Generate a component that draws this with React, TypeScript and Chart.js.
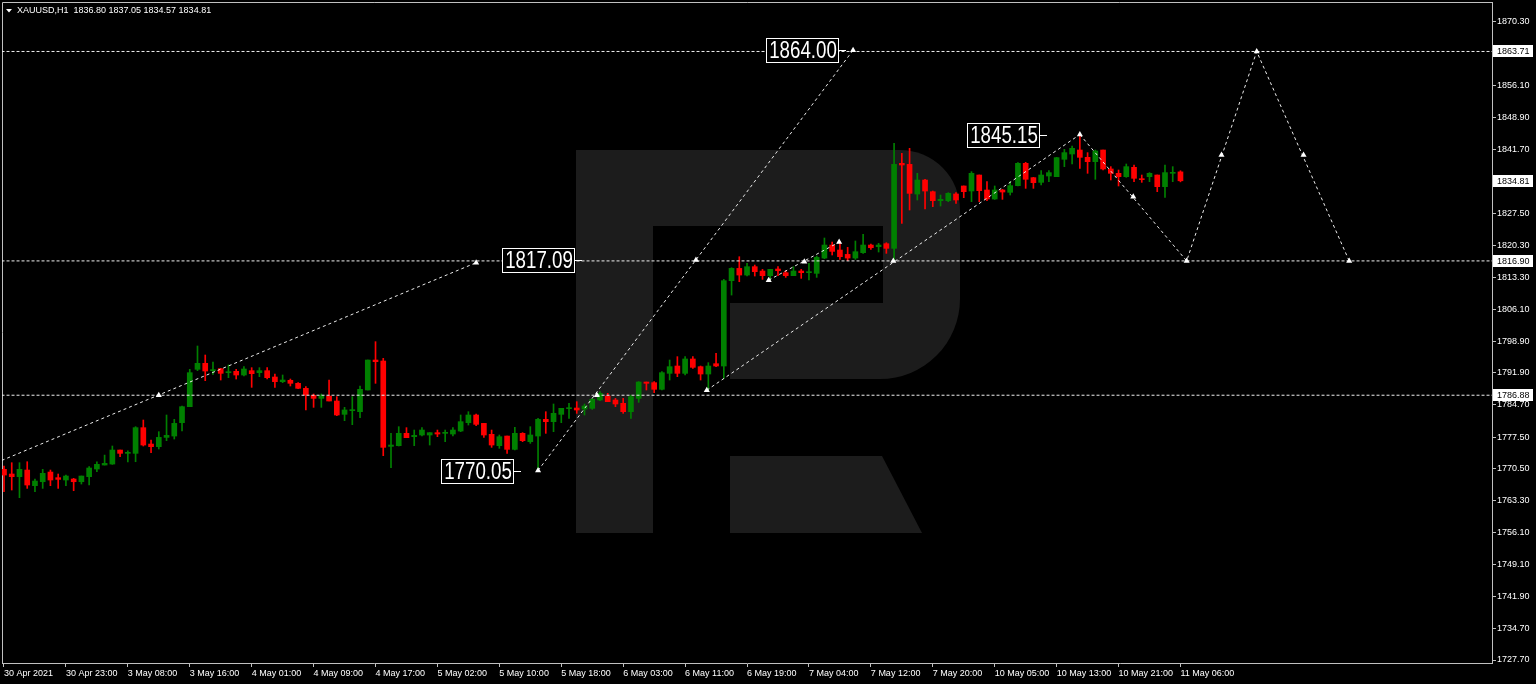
import React, { useEffect, useRef } from "react";
import { Chart, registerables } from "chart.js";

Chart.register(...registerables);

const FONT = '"Liberation Sans", Arial, sans-serif';
const AXIS_COLOR = "#c0c0c0";
const BULL = "#008000";
const BEAR = "#ff0000";
const LOGO = "#1c1c1c";

const SYMBOL = "XAUUSD,H1";
const HEADER_OHLC = ["1836.80", "1837.05", "1834.57", "1834.81"];

// ---- Candles (H1), index 0 = 30 Apr 15:00 ... index 152 = 11 May 06:00 ----
const OPEN = [
  1770.31, 1769.27, 1768.67, 1770.16, 1766.66, 1767.55, 1769.71, 1768.45, 1767.93, 1768.15,
  1767.55, 1768.67, 1770.39, 1771.28, 1771.5, 1774.63, 1773.89, 1773.89, 1779.63, 1775.97,
  1775.38, 1777.46, 1777.76, 1780.74, 1784.32, 1792.67, 1794.01, 1792.37, 1792.82, 1791.92,
  1792.22, 1791.4, 1792.37, 1791.92, 1792.37, 1790.95, 1789.91, 1790.21, 1789.54, 1788.42,
  1786.85, 1786.18, 1786.7, 1785.59, 1782.61, 1783.43, 1783.2, 1788.05, 1794.75, 1794.53,
  1775.45, 1775.6, 1778.36, 1777.61, 1777.99, 1777.99, 1778.51, 1778.36, 1778.21, 1778.88,
  1780.74, 1782.46, 1780.59, 1778.14, 1775.6, 1777.76, 1774.78, 1778.36, 1776.5, 1777.76,
  1781.49, 1780.97, 1782.61, 1783.87, 1784.02, 1783.8, 1783.95, 1785.81, 1786.7, 1785.81,
  1785.07, 1783.2, 1786.18, 1789.83, 1789.69, 1788.2, 1791.77, 1793.41, 1791.77, 1794.98,
  1793.26, 1791.62, 1793.93, 1793.41, 1812.48, 1815.23, 1813.74, 1815.61, 1814.64, 1813.6,
  1815.09, 1814.27, 1813.6, 1814.64, 1814.27, 1814.12, 1817.54, 1820.45, 1819.33, 1818.36,
  1817.54, 1818.74, 1820.45, 1820.08, 1820.75, 1819.71, 1838.71, 1838.48, 1831.85, 1834.98,
  1832.37, 1830.37, 1830.37, 1831.86, 1833.65, 1832.53, 1836.1, 1832.75, 1830.74, 1832.75,
  1832.23, 1833.72, 1838.71, 1835.51, 1834.46, 1835.88, 1835.73, 1839.61, 1840.8, 1841.69,
  1840.05, 1839.08, 1841.69, 1837.45, 1836.48, 1835.73, 1837.82, 1835.21, 1835.73, 1836.1,
  1833.5, 1836.48, 1836.8,
];
const HIGH = [
  1771.06, 1771.8, 1771.8, 1772.02, 1768.15, 1770.31, 1770.16, 1769.27, 1769.04, 1768.3,
  1768.82, 1770.91, 1772.02, 1773.5, 1775.53, 1774.63, 1774.48, 1779.85, 1781.34, 1776.87,
  1778.73, 1782.46, 1781.49, 1784.47, 1792.67, 1797.88, 1795.87, 1794.31, 1792.89, 1793.64,
  1792.67, 1793.26, 1793.04, 1793.04, 1793.04, 1791.62, 1791.4, 1790.5, 1789.69, 1788.79,
  1787.15, 1787.15, 1790.28, 1786.56, 1784.17, 1786.56, 1788.94, 1794.75, 1798.85, 1795.13,
  1778.36, 1779.85, 1779.63, 1779.1, 1779.63, 1778.51, 1779.1, 1779.1, 1779.63, 1782.46,
  1783.2, 1782.68, 1780.59, 1779.1, 1777.99, 1777.76, 1779.7, 1778.51, 1779.85, 1781.71,
  1783.2, 1784.92, 1783.95, 1785.07, 1785.44, 1784.92, 1786.18, 1787.67, 1787.3, 1786.18,
  1786.18, 1786.93, 1789.91, 1789.83, 1789.91, 1792.15, 1794.75, 1795.5, 1795.5, 1795.5,
  1793.41, 1794.16, 1796.24, 1812.77, 1815.38, 1817.84, 1816.35, 1815.98, 1815.01, 1815.01,
  1815.61, 1814.71, 1815.61, 1815.01, 1816.35, 1817.99, 1822.02, 1821.12, 1821.2, 1819.93,
  1821.35, 1822.84, 1820.67, 1820.82, 1820.97, 1843.18, 1840.94, 1842.06, 1836.47, 1835.13,
  1832.52, 1831.63, 1832.15, 1832.15, 1833.65, 1836.85, 1836.1, 1834.61, 1833.65, 1832.9,
  1834.61, 1838.86, 1838.94, 1835.58, 1837.07, 1837.07, 1840.05, 1841.84, 1842.59, 1845.15,
  1841.1, 1841.69, 1841.69, 1837.97, 1837.22, 1838.56, 1838.34, 1836.1, 1836.63, 1836.1,
  1838.34, 1837.97, 1837.05,
];
const LOW = [
  1765.32, 1765.69, 1763.98, 1766.06, 1765.32, 1766.06, 1766.66, 1766.06, 1766.66, 1765.54,
  1767.03, 1766.81, 1769.79, 1771.28, 1771.43, 1773.15, 1771.95, 1772.02, 1775.53, 1774.04,
  1774.86, 1776.72, 1777.09, 1778.88, 1784.32, 1792.37, 1790.13, 1791.55, 1790.28, 1790.8,
  1790.5, 1791.18, 1788.64, 1791.03, 1790.5, 1788.64, 1789.69, 1788.94, 1788.34, 1783.58,
  1784.17, 1784.17, 1785.59, 1782.31, 1781.19, 1780.3, 1781.86, 1788.05, 1789.54, 1773.37,
  1770.68, 1775.53, 1777.39, 1775.6, 1777.76, 1775.75, 1777.61, 1776.5, 1777.76, 1778.73,
  1780.22, 1780.07, 1777.46, 1775.23, 1775.01, 1773.89, 1774.63, 1776.5, 1776.12, 1770.05,
  1778.36, 1778.73, 1780.74, 1781.71, 1782.83, 1782.46, 1783.72, 1785.66, 1785.44, 1784.32,
  1782.83, 1781.71, 1785.29, 1788.05, 1787.45, 1788.05, 1790.28, 1791.03, 1791.4, 1792.89,
  1790.28, 1788.0, 1793.26, 1790.64, 1809.27, 1812.25, 1813.52, 1813.52, 1812.77, 1812.63,
  1813.6, 1813.22, 1813.6, 1813.0, 1812.63, 1813.22, 1817.4, 1818.22, 1817.25, 1816.95,
  1817.25, 1818.59, 1819.48, 1818.89, 1818.59, 1816.72, 1825.29, 1828.28, 1830.51, 1828.5,
  1829.02, 1829.17, 1830.14, 1829.77, 1831.04, 1830.14, 1830.14, 1830.37, 1830.66, 1830.66,
  1831.63, 1833.65, 1833.12, 1833.12, 1833.87, 1834.61, 1835.73, 1837.97, 1838.56, 1837.59,
  1836.48, 1835.14, 1837.22, 1834.99, 1833.65, 1835.58, 1834.61, 1834.46, 1834.61, 1832.38,
  1831.11, 1834.61, 1834.57,
];
const CLOSE = [
  1769.04, 1768.67, 1770.31, 1766.81, 1767.7, 1769.42, 1767.93, 1768.07, 1768.82, 1767.55,
  1768.82, 1770.61, 1771.43, 1771.65, 1774.63, 1773.89, 1774.04, 1779.63, 1775.75, 1775.38,
  1777.46, 1777.91, 1780.59, 1784.32, 1791.92, 1794.01, 1792.29, 1792.59, 1791.77, 1792.07,
  1791.4, 1792.74, 1791.7, 1792.37, 1790.8, 1789.91, 1790.28, 1789.54, 1788.42, 1786.93,
  1786.18, 1786.78, 1785.59, 1782.46, 1783.58, 1783.58, 1788.2, 1794.75, 1794.38, 1775.23,
  1775.75, 1778.36, 1777.39, 1777.91, 1779.1, 1778.51, 1778.21, 1778.51, 1779.1, 1780.97,
  1782.46, 1780.37, 1777.99, 1775.75, 1777.61, 1774.78, 1778.36, 1776.72, 1777.99, 1781.49,
  1780.97, 1782.83, 1783.95, 1784.02, 1783.58, 1784.47, 1785.96, 1787.3, 1785.44, 1784.92,
  1783.2, 1786.56, 1789.83, 1789.54, 1788.2, 1791.92, 1793.26, 1791.77, 1794.98, 1793.11,
  1791.62, 1793.41, 1793.41, 1812.48, 1815.23, 1813.74, 1815.61, 1814.49, 1813.6, 1815.01,
  1814.71, 1813.6, 1814.64, 1814.27, 1814.41, 1817.69, 1820.45, 1819.03, 1817.84, 1817.54,
  1818.96, 1820.45, 1819.85, 1820.45, 1819.71, 1838.48, 1838.34, 1832.0, 1834.98, 1832.52,
  1830.36, 1830.66, 1832.01, 1830.52, 1832.38, 1836.48, 1832.6, 1830.74, 1832.75, 1832.3,
  1833.72, 1838.71, 1835.14, 1834.39, 1836.1, 1836.63, 1839.98, 1841.1, 1842.07, 1840.05,
  1839.08, 1841.47, 1837.45, 1836.48, 1835.73, 1837.97, 1835.36, 1835.06, 1836.48, 1833.5,
  1836.63, 1836.7, 1834.81,
];

// ---- Axes ----
const X_TICK_INDEX = [0, 8, 16, 24, 32, 40, 48, 56, 64, 72, 80, 88, 96, 104, 112, 120, 128, 136, 144, 152];
const X_TICK_LABELS = [
  "30 Apr 2021", "30 Apr 23:00", "3 May 08:00", "3 May 16:00", "4 May 01:00", "4 May 09:00",
  "4 May 17:00", "5 May 02:00", "5 May 10:00", "5 May 18:00", "6 May 03:00", "6 May 11:00",
  "6 May 19:00", "7 May 04:00", "7 May 12:00", "7 May 20:00", "10 May 05:00", "10 May 13:00",
  "10 May 21:00", "11 May 06:00",
];
const Y_TICKS = [
  1870.3, 1863.1, 1856.1, 1848.9, 1841.7, 1834.5, 1827.5, 1820.3, 1813.3, 1806.1, 1798.9,
  1791.9, 1784.7, 1777.5, 1770.5, 1763.3, 1756.1, 1749.1, 1741.9, 1734.7, 1727.7,
];
const X_MIN = -0.258;
const X_MAX = 192.25;
const Y_MIN = 1727.03;
const Y_MAX = 1874.77;

// ---- Drawn objects ----
const LEVELS = [1863.71, 1816.9, 1786.88];
const AXIS_MARKS = [1863.71, 1834.81, 1816.9, 1786.88];

const TREND_1 = [{ x: -0.3, y: 1772.3 }, { x: 61, y: 1816.5 }];
const TREND_2 = [{ x: 69, y: 1770.05 }, { x: 109.7, y: 1864.0 }];
const TREND_3 = [{ x: 90.8, y: 1788.0 }, { x: 139, y: 1845.15 }];
const TREND_4 = [{ x: 98.8, y: 1812.6 }, { x: 107.9, y: 1821.1 }];
const FORECAST = [
  { x: 139, y: 1845.15 },
  { x: 152.8, y: 1816.9 },
  { x: 161.85, y: 1863.71 },
  { x: 173.8, y: 1816.9 },
];

const MARK_X = [20, 61, 69, 76.6, 89.4, 109.7, 90.8, 114.9, 139, 98.8, 103.4, 107.9, 145.9, 152.8, 157.3, 161.85, 167.9, 173.8];
const MARK_Y = [1786.9, 1816.5, 1770.05, 1786.9, 1817.1, 1864.0, 1788.0, 1816.9, 1845.15, 1812.6, 1816.7, 1821.1, 1831.25, 1816.9, 1840.6, 1863.71, 1840.6, 1816.9];

const LABEL_TEXT = ["1864.00", "1817.09", "1770.05", "1845.15"];
const LABEL_INDEX = [109, 75, 67, 135];
const LABEL_PRICE = [1864.0, 1817.09, 1770.05, 1845.15];

function drawLogo(ctx: CanvasRenderingContext2D) {
  ctx.save();
  ctx.fillStyle = LOGO;
  ctx.fillRect(576, 150, 77, 383);
  ctx.beginPath();
  (ctx as any).roundRect(576, 150, 384, 229, [0, 60, 80, 0]);
  ctx.fill();
  ctx.beginPath();
  ctx.moveTo(730, 456);
  ctx.lineTo(882, 456);
  ctx.lineTo(922, 533);
  ctx.lineTo(730, 533);
  ctx.closePath();
  ctx.fill();
  ctx.fillStyle = "#000000";
  ctx.fillRect(653, 226, 230, 77);
  ctx.fillRect(653, 303, 77, 76);
  ctx.restore();
}

const backgroundPlugin = {
  id: "mtBackground",
  beforeDraw(chart: any) {
    const ctx: CanvasRenderingContext2D = chart.ctx;
    const a = chart.chartArea;
    ctx.save();
    ctx.fillStyle = "#000000";
    ctx.fillRect(0, 0, chart.width, chart.height);
    ctx.restore();
    drawLogo(ctx);
    ctx.save();
    ctx.strokeStyle = AXIS_COLOR;
    ctx.lineWidth = 1;
    ctx.beginPath();
    ctx.moveTo(a.left + 0.5, a.bottom);
    ctx.lineTo(a.left + 0.5, a.top + 0.5);
    ctx.lineTo(a.right, a.top + 0.5);
    ctx.stroke();
    ctx.restore();
  },
};

const overlayPlugin = {
  id: "mtOverlay",
  afterDatasetsDraw(chart: any) {
    const ctx: CanvasRenderingContext2D = chart.ctx;
    const xs = chart.scales.x;
    const ys = chart.scales.y;
    ctx.save();
    LABEL_TEXT.forEach((txt, k) => {
      const px = Math.round(xs.getPixelForValue(LABEL_INDEX[k]));
      const py = Math.round(ys.getPixelForValue(LABEL_PRICE[k]));
      const right = px - 10;
      const w = 72;
      const h = 24;
      const left = right - w;
      const top = py - 12;
      ctx.fillStyle = "#000000";
      ctx.fillRect(left, top, w, h);
      ctx.strokeStyle = "#ffffff";
      ctx.lineWidth = 1;
      ctx.strokeRect(left + 0.5, top + 0.5, w, h);
      ctx.beginPath();
      ctx.moveTo(right + 1, py + 0.5);
      ctx.lineTo(px - 2, py + 0.5);
      ctx.stroke();
      ctx.save();
      ctx.translate(left + w / 2 + 1, py + 1.5);
      ctx.scale(0.78, 1);
      ctx.fillStyle = "#ffffff";
      ctx.font = `24px ${FONT}`;
      ctx.textAlign = "center";
      ctx.textBaseline = "middle";
      ctx.fillText(txt, 0, 0);
      ctx.restore();
    });
    ctx.restore();
  },
  afterDraw(chart: any) {
    const ctx: CanvasRenderingContext2D = chart.ctx;
    const ys = chart.scales.y;
    const a = chart.chartArea;
    ctx.save();
    ctx.font = `9px ${FONT}`;
    ctx.textBaseline = "middle";
    ctx.textAlign = "left";
    AXIS_MARKS.forEach((v) => {
      const py = Math.round(ys.getPixelForValue(v));
      ctx.fillStyle = "#ffffff";
      ctx.fillRect(a.right + 1, py - 6, 40, 12);
      ctx.fillStyle = "#000000";
      ctx.fillText(v.toFixed(2), a.right + 5, py + 0.5);
    });
    // header
    ctx.fillStyle = "#ffffff";
    ctx.beginPath();
    ctx.moveTo(6, 9);
    ctx.lineTo(12, 9);
    ctx.lineTo(9, 12.5);
    ctx.closePath();
    ctx.fill();
    ctx.fillText(`${SYMBOL}  ${HEADER_OHLC.join(" ")}`, 17, 11);
    ctx.restore();
  },
};

export default function App() {
  const canvasRef = useRef<HTMLCanvasElement | null>(null);

  useEffect(() => {
    const canvas = canvasRef.current;
    if (!canvas) return;
    const colors = CLOSE.map((c, i) => (c >= OPEN[i] ? BULL : BEAR));
    const tickFont = { family: FONT, size: 9 };
    const lineDs = (data: any[], color: string, dash: number[], order: number) => ({
      type: "line",
      data,
      borderColor: color,
      borderWidth: 1,
      borderDash: dash,
      pointRadius: 0,
      pointHoverRadius: 0,
      fill: false,
      tension: 0,
      order,
    });

    const chart = new Chart(canvas, {
      type: "bar",
      data: {
        datasets: [
          {
            type: "line",
            data: MARK_X.map((x, k) => ({ x, y: MARK_Y[k] })),
            showLine: false,
            pointStyle: "triangle",
            pointRadius: 3.5,
            pointHoverRadius: 3.5,
            pointBackgroundColor: "#ffffff",
            pointBorderColor: "#ffffff",
            pointBorderWidth: 0,
            order: 0,
          } as any,
          lineDs(TREND_1, "#ececec", [3, 3], 1),
          lineDs(TREND_2, "#ececec", [3, 3], 1),
          lineDs(TREND_3, "#ececec", [3, 3], 1),
          lineDs(TREND_4, "#ececec", [3, 3], 1),
          lineDs(FORECAST, "#ececec", [3, 3], 1),
          ...LEVELS.map((v) =>
            lineDs(
              [
                { x: X_MIN - 2, y: v },
                { x: X_MAX + 2, y: v },
              ],
              "#f0f0f0",
              [3, 2],
              2
            )
          ),
          {
            type: "bar",
            data: OPEN.map((o, i) => ({ x: i, y: [o, CLOSE[i]] })),
            backgroundColor: colors,
            borderWidth: 0,
            barThickness: 5,
            grouped: false,
            minBarLength: 1,
            order: 3,
          } as any,
          {
            type: "bar",
            data: LOW.map((l, i) => ({ x: i, y: [l, HIGH[i]] })),
            backgroundColor: colors,
            borderWidth: 0,
            barThickness: 1,
            grouped: false,
            order: 4,
          } as any,
        ] as any,
      },
      options: {
        responsive: false,
        animation: false,
        devicePixelRatio: 1,
        events: [],
        layout: { autoPadding: false, padding: { left: 2, top: 2, right: 0, bottom: 0 } },
        plugins: {
          legend: { display: false },
          tooltip: { enabled: false },
          title: { display: false },
        },
        scales: {
          x: {
            type: "linear",
            min: X_MIN,
            max: X_MAX,
            offset: false,
            grid: {
              display: true,
              drawOnChartArea: false,
              drawTicks: true,
              tickLength: 4,
              color: AXIS_COLOR,
              offset: false,
            },
            border: { display: true, color: AXIS_COLOR, width: 1 },
            ticks: {
              autoSkip: false,
              maxRotation: 0,
              minRotation: 0,
              align: "start",
              padding: 1,
              color: "#ffffff",
              font: tickFont,
              callback: (v: any) => {
                const k = X_TICK_INDEX.indexOf(Number(v));
                return k >= 0 ? X_TICK_LABELS[k] : "";
              },
            },
            afterBuildTicks: (s: any) => {
              s.ticks = X_TICK_INDEX.map((v) => ({ value: v }));
            },
            afterFit: (s: any) => {
              s.height = 21;
              s.paddingLeft = 0;
              s.paddingRight = 0;
            },
          },
          y: {
            type: "linear",
            position: "right",
            min: Y_MIN,
            max: Y_MAX,
            beginAtZero: false,
            grid: {
              display: true,
              drawOnChartArea: false,
              drawTicks: true,
              tickLength: 4,
              color: AXIS_COLOR,
            },
            border: { display: true, color: AXIS_COLOR, width: 1 },
            ticks: {
              autoSkip: false,
              padding: 1,
              color: "#ffffff",
              font: tickFont,
              callback: (v: any) => Number(v).toFixed(2),
            },
            afterBuildTicks: (s: any) => {
              s.ticks = Y_TICKS.map((v) => ({ value: v }));
            },
            afterFit: (s: any) => {
              s.width = 44;
              s.paddingTop = 0;
              s.paddingBottom = 0;
            },
          },
        },
      } as any,
      plugins: [backgroundPlugin, overlayPlugin],
    });

    return () => chart.destroy();
  }, []);

  return (
    <div
      style={{
        position: "fixed",
        left: 0,
        top: 0,
        width: 1536,
        height: 684,
        background: "#000000",
        overflow: "hidden",
      }}
    >
      <canvas ref={canvasRef} width={1536} height={684} style={{ display: "block" }} />
    </div>
  );
}
